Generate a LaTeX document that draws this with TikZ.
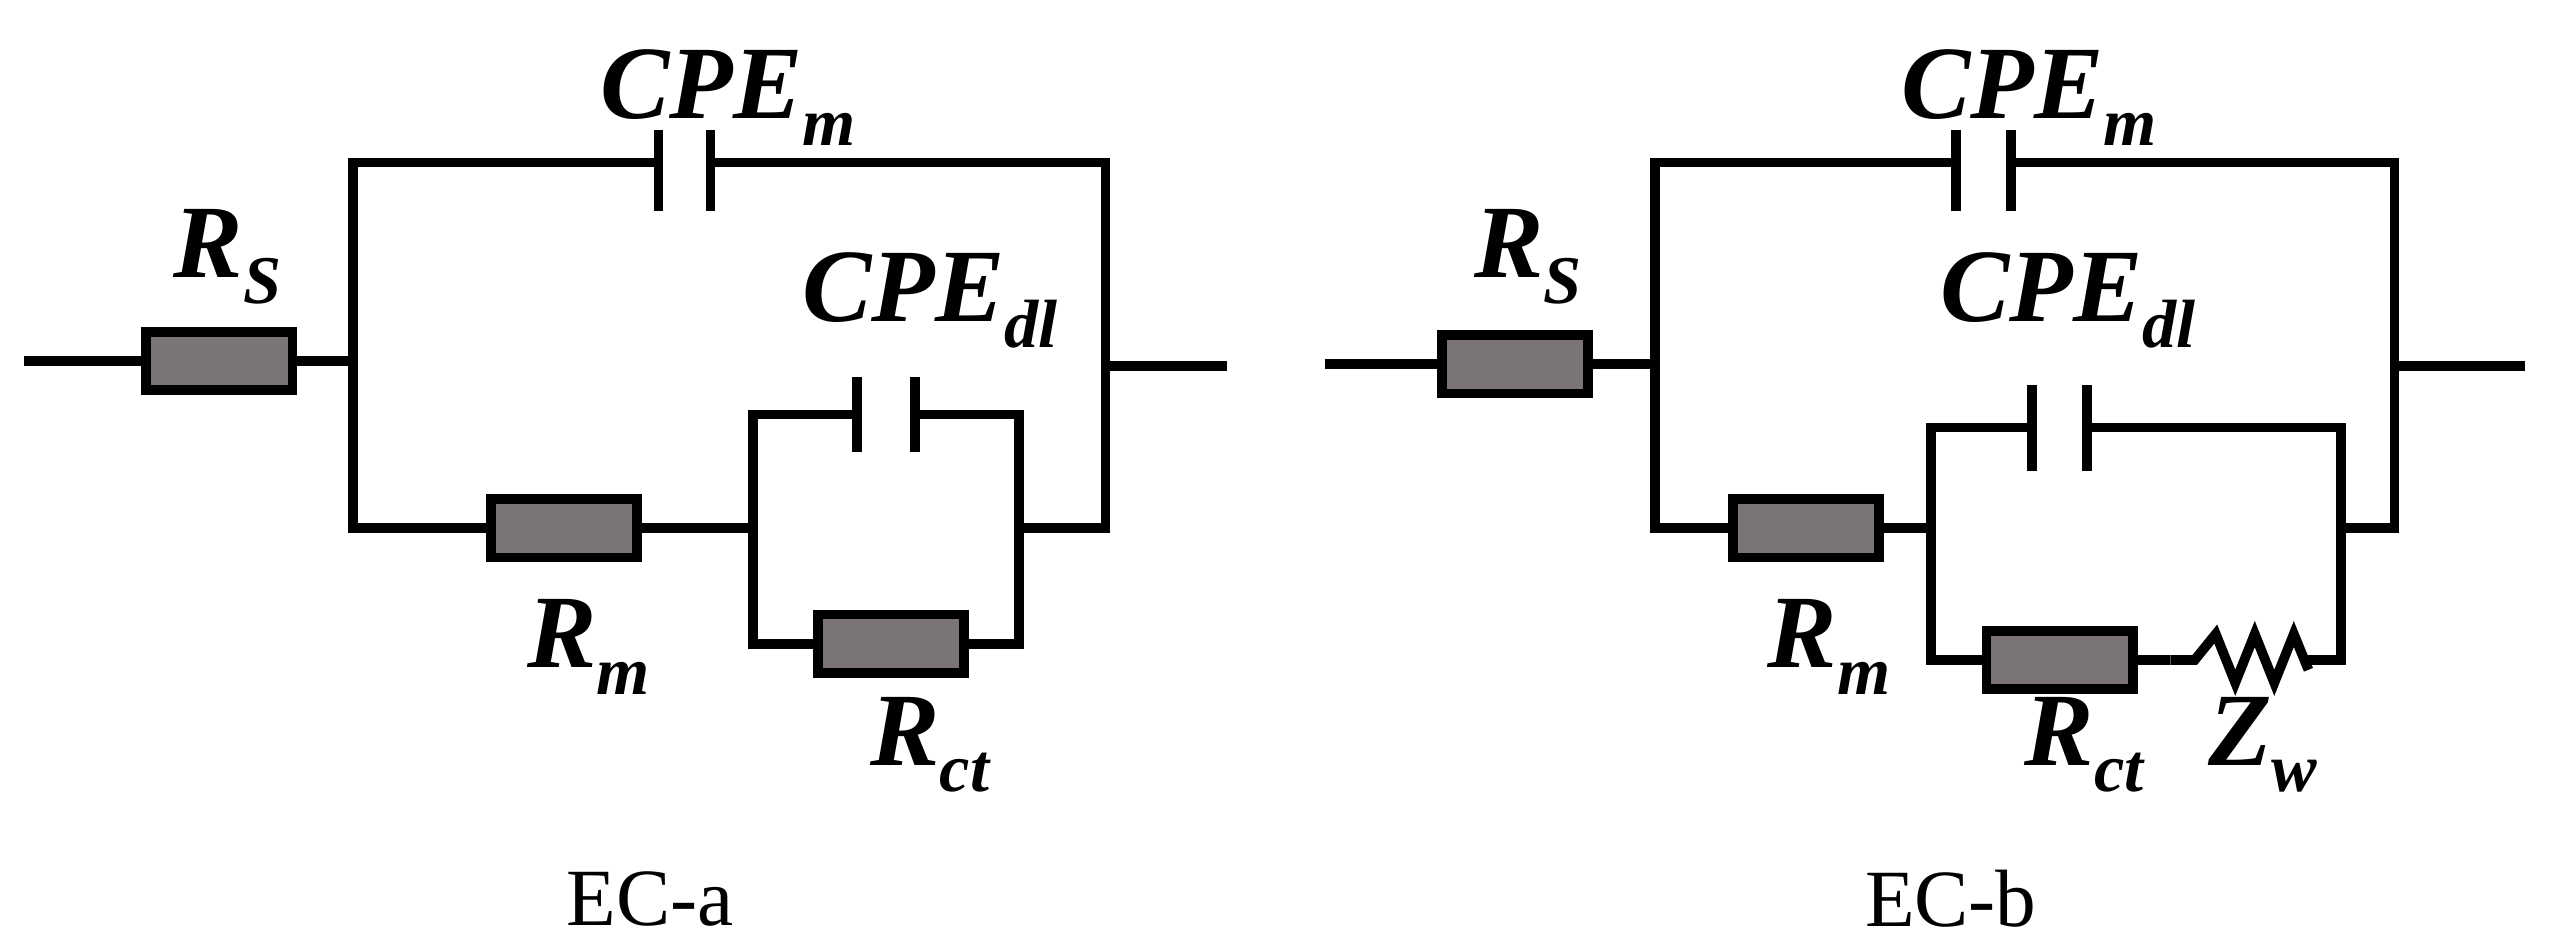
\documentclass[tikz,border=0pt]{standalone}
\usepackage{fontspec}
\setmainfont{Liberation Serif}
\newcommand{\mysb}[1]{\raisebox{-0.55ex}{\fontsize{21}{22}\selectfont #1}}
\begin{document}
\begin{tikzpicture}[x=0.5pt,y=-0.5pt,
  wire/.style={line width=3pt},
  res/.style={draw,line width=3pt,fill={rgb,255:red,122;green,116;blue,116},minimum width=45pt,minimum height=18pt,inner sep=0pt},
  lab/.style={font=\fontsize{32}{34}\selectfont\bfseries\itshape},
  ttl/.style={font=\fontsize{25}{28}\selectfont}]
\useasboundingbox (0,0) rectangle (1568,584);
% ---------- EC-a
\node[res] (rs) at (135,222) {};
\node[res] (rm) at (347,325) {};
\node[res] (rct) at (548,396) {};
\coordinate (a1) at (15,222); \coordinate (a2) at (217,222);
\coordinate (tl) at (217,100); \coordinate (tr) at (680,100);
\coordinate (bl) at (217,325); \coordinate (br) at (680,325);
\coordinate (p1) at (405,100); \coordinate (p2) at (437,100);
\coordinate (il) at (463,325); \coordinate (itl) at (463,255); \coordinate (ibl) at (463,396);
\coordinate (itr) at (627,255); \coordinate (ibr) at (627,396); \coordinate (ir) at (627,325);
\coordinate (q1) at (527,255); \coordinate (q2) at (563,255);
\coordinate (ao) at (755,225); \coordinate (ai) at (680,225);
\draw[wire] (a1) -- (rs.west) (rs.east) -- (a2);
\draw[wire] (p1) -- (tl) -- (bl) -- (rm.west) (rm.east) -- (il);
\draw[wire] (p2) -- (tr) -- (br) -- (ir) (ai) -- (ao);
\draw[wire] (q1) -- (itl) -- (ibl) -- (rct.west) (rct.east) -- (ibr) -- (itr) -- (q2);
\draw[wire] (405,80) -- (405,130) (437,80) -- (437,130);
\draw[wire] (527,232) -- (527,278) (563,232) -- (563,278);
\node[lab] (lcm) at (448,60) {CPE\mysb{m}};
\node[lab] (lrs) at (140,158) {R\mysb{S}};
\node[lab] (lcd) at (572,185) {CPE\mysb{dl}};
\node[lab] (lrm) at (362,398) {R\mysb{m}};
\node[lab] (lrc) at (572,458) {R\mysb{ct}};
\node[ttl] (eca) at (400,553) {EC-a};
% ---------- EC-b
\node[res] (rs2) at (932,224) {};
\node[res] (rm2) at (1111,325) {};
\node[res] (rct2) at (1267,406) {};
\coordinate (b1) at (815,224); \coordinate (b2) at (1018,224);
\coordinate (tl2) at (1018,100); \coordinate (tr2) at (1473,100);
\coordinate (bl2) at (1018,325); \coordinate (br2) at (1473,325);
\coordinate (p3) at (1203,100); \coordinate (p4) at (1237,100);
\coordinate (il2) at (1188,325); \coordinate (itl2) at (1188,263); \coordinate (ibl2) at (1188,406);
\coordinate (itr2) at (1440,263); \coordinate (ibr2) at (1440,406); \coordinate (ir2) at (1440,325);
\coordinate (q3) at (1250,263); \coordinate (q4) at (1284,263);
\coordinate (bo) at (1553,225); \coordinate (bi) at (1473,225);
\coordinate (z1) at (1335,406); \coordinate (z2) at (1420,406);
\draw[wire] (b1) -- (rs2.west) (rs2.east) -- (b2);
\draw[wire] (p3) -- (tl2) -- (bl2) -- (rm2.west) (rm2.east) -- (il2);
\draw[wire] (p4) -- (tr2) -- (br2) -- (ir2) (bi) -- (bo);
\draw[wire] (q3) -- (itl2) -- (ibl2) -- (rct2.west) (rct2.east) -- (z1);
\draw[wire,line join=miter] (z1) -- (1350,406) -- (1363,390) -- (1375,420) -- (1387,390) -- (1399,420) -- (1411,390) -- (1420,412);
\draw[wire] (z2) -- (ibr2) -- (itr2) -- (q4);
\draw[wire] (1203,80) -- (1203,130) (1237,80) -- (1237,130);
\draw[wire] (1250,237) -- (1250,290) (1284,237) -- (1284,290);
\node[lab] (lcm2) at (1248,60) {CPE\mysb{m}};
\node[lab] (lrs2) at (940,158) {R\mysb{S}};
\node[lab] (lcd2) at (1272,185) {CPE\mysb{dl}};
\node[lab] (lrm2) at (1125,398) {R\mysb{m}};
\node[lab] (lrc2) at (1282,458) {R\mysb{ct}};
\node[lab] (lzw) at (1392,458) {Z\mysb{w}};
\node[ttl] (ecb) at (1200,553) {EC-b};
\end{tikzpicture}
\end{document}
